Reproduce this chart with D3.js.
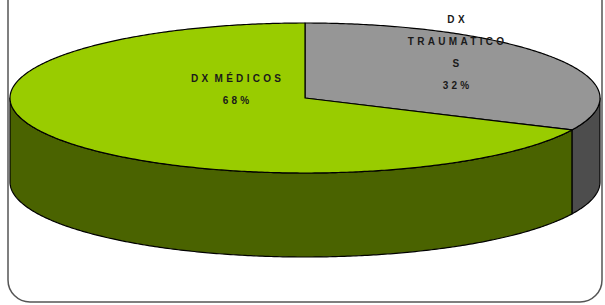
<!DOCTYPE html>
<html lang="es">
<head>
    <meta charset="UTF-8">
    <title>DX pie 3D</title>
    <script type="text/javascript" src="https://d3js.org/d3.v7.min.js"></script>
    <style>
       body{ margin:0; background:white; }
       text{
              font-family:"Liberation Sans", Arial, sans-serif;
              font-size:10px;
              font-weight:bold;
              letter-spacing:3.3px;
              word-spacing:-3px;
              fill:#1a1a1a;
           }
    </style>
</head>
<body>
    <script type="text/javascript">
    // data (slice order: clockwise from 12 o'clock)
    var categories = ["DX TRAUMATICOS", "DX MÉDICOS"];
    var values = [32, 68];
    var labelLines = [["DX", "TRAUMATICO", "S", "32%"], ["DX MÉDICOS", "68%"]];

    var width = 605, height = 305,
        cx = 305, cy = 98, rx = 295, ry = 75, depth = 84;

    var topColor = d3.scaleOrdinal().domain(categories).range(["#969696", "#99cc00"]);
    var sideColor = d3.scaleOrdinal().domain(categories).range(["#4d4d4d", "#4a6300"]);

    var svg = d3.select("body")
                .append("svg")
                .attr("width", width)
                .attr("height", height);

    // chart frame (top edge is off the picture)
    svg.append("rect")
       .attr("x", 8).attr("y", -30)
       .attr("width", 594).attr("height", 332)
       .attr("rx", 22)
       .attr("fill", "none")
       .attr("stroke", "#555")
       .attr("stroke-width", 1.5);

    var pie = d3.pie().sort(null).value(function(d){ return d.value; });
    var arcs = pie(categories.map(function(c, i){ return {cat:c, value:values[i], lines:labelLines[i]}; }));

    function pt(a, dy){ return [cx + rx*Math.sin(a), cy - ry*Math.cos(a) + (dy||0)]; }

    function arcPoints(a0, a1, dy){
        var n = Math.max(2, Math.ceil((a1 - a0) / 0.01)), pts = [];
        for (var i = 0; i <= n; i++) pts.push(pt(a0 + (a1 - a0)*i/n, dy));
        return pts;
    }

    var line = d3.line();

    function topPath(d){
        return line([[cx, cy]].concat(arcPoints(d.startAngle, d.endAngle))) + "Z";
    }

    // front part of the rim lies between pi/2 and 3pi/2
    function sidePath(d){
        var a0 = Math.max(d.startAngle, Math.PI/2),
            a1 = Math.min(d.endAngle, 3*Math.PI/2);
        if (a1 <= a0) return null;
        var upper = arcPoints(a0, a1, 0),
            lower = arcPoints(a0, a1, depth).reverse();
        return line(upper.concat(lower)) + "Z";
    }

    var g = svg.append("g");

    g.selectAll("path.side")
     .data(arcs.filter(function(d){ return sidePath(d); }))
     .enter().append("path")
     .attr("class", "side")
     .attr("d", sidePath)
     .attr("fill", function(d){ return sideColor(d.data.cat); })
     .attr("stroke", "#000")
     .attr("stroke-width", 1.2)
     .attr("stroke-linejoin", "round");

    g.selectAll("path.top")
     .data(arcs)
     .enter().append("path")
     .attr("class", "top")
     .attr("d", topPath)
     .attr("fill", function(d){ return topColor(d.data.cat); })
     .attr("stroke", "#000")
     .attr("stroke-width", 1.2)
     .attr("stroke-linejoin", "round");

    // labels
    var labelPos = [[456, 19], [236, 78]];
    g.selectAll("g.lbl")
     .data(arcs)
     .enter().append("g")
     .attr("class", "lbl")
     .attr("transform", function(d, i){ return "translate(" + labelPos[i] + ")"; })
     .each(function(d){
        d3.select(this).selectAll("text")
          .data(d.data.lines)
          .enter().append("text")
          .attr("text-anchor", "middle")
          .attr("dx", 1.6)
          .attr("y", function(s, j){ return j*22 + 4; })
          .text(function(s){ return s; });
     });
    </script>
</body>
</html>
